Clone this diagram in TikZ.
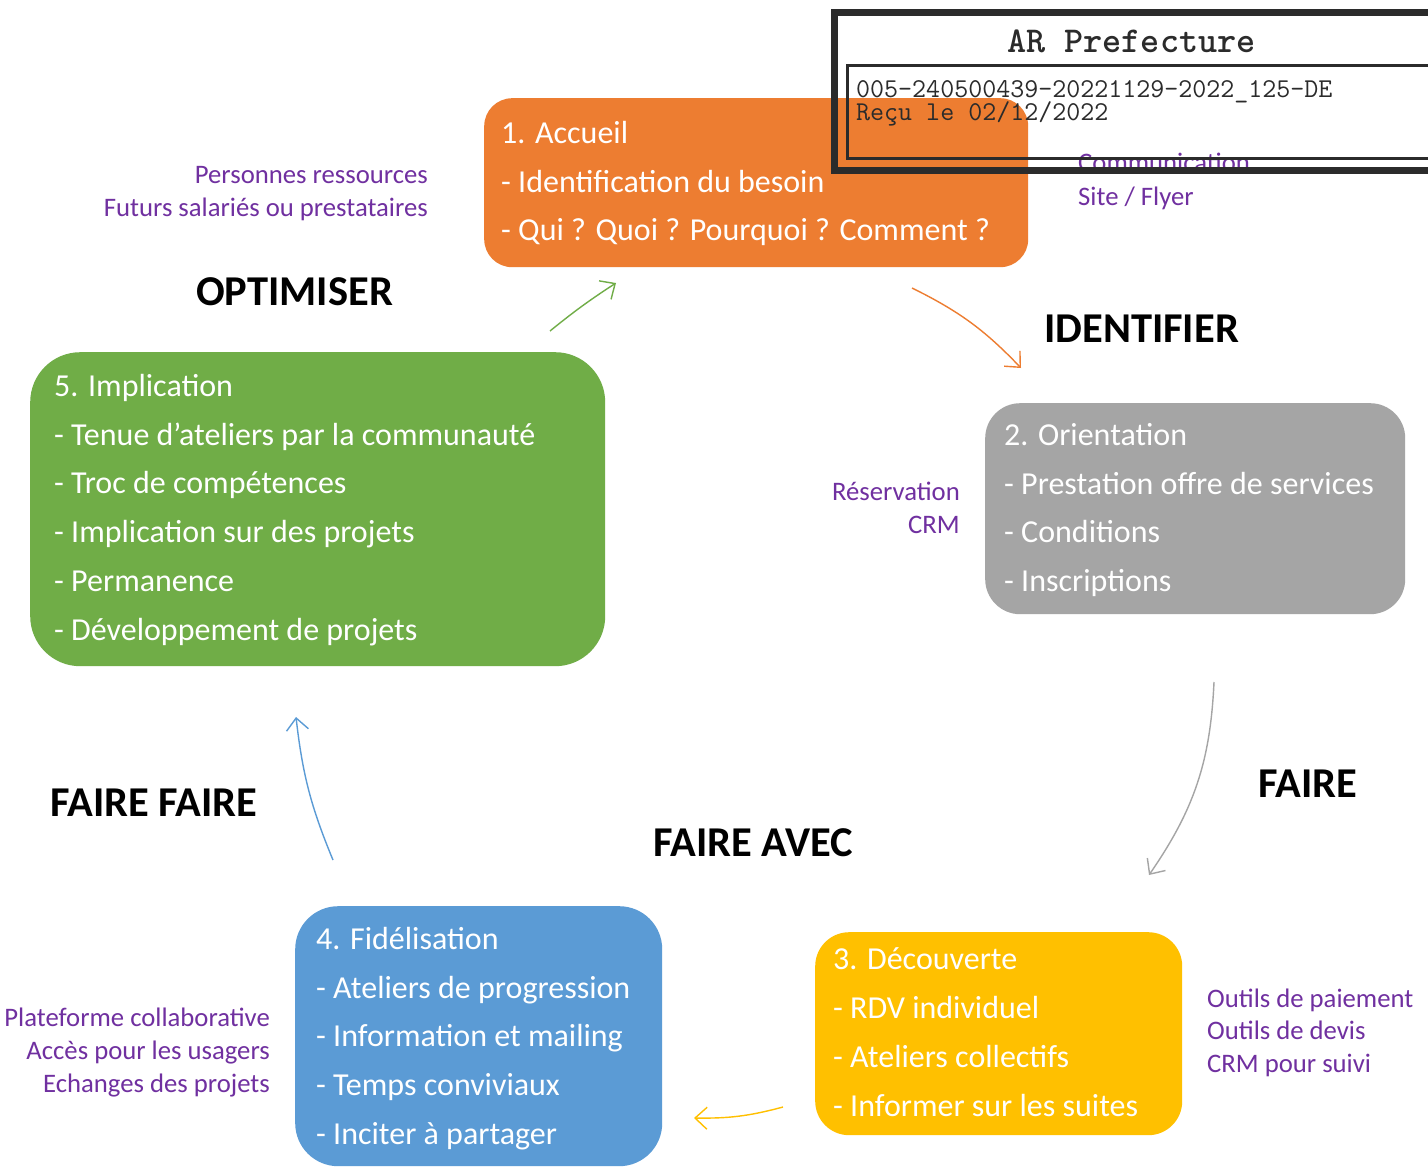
\documentclass[tikz,border=0pt]{standalone}
\usepackage{fontspec}
\setmainfont{Carlito}
\usetikzlibrary{arrows.meta}
\definecolor{cOrange}{HTML}{ED7D31}
\definecolor{cGreen}{HTML}{70AD47}
\definecolor{cGray}{HTML}{A5A5A5}
\definecolor{cYellow}{HTML}{FFC000}
\definecolor{cBlue}{HTML}{5B9BD5}
\definecolor{cPurple}{HTML}{7030A0}
\definecolor{cStamp}{HTML}{2B2B2B}
\tikzset{
  card/.style={draw=none, rounded corners=#1, anchor=north west, inner sep=0pt},
  line/.style={anchor=base west, inner sep=0pt, text=white, font=\fontsize{32}{38}\selectfont},
  phase/.style={anchor=base west, inner sep=0pt, font=\bfseries\fontsize{42.5}{48}\selectfont},
  tool/.style={inner sep=0pt, text=cPurple, font=\fontsize{26.7}{31}\selectfont},
  flow/.style={line width=1.4pt, -{Straight Barb[length=12pt,width=22pt,line width=1.4pt]}},
  stamptext/.style={anchor=base west, inner sep=0pt, text=cStamp}
}
\begin{document}
\begin{tikzpicture}[x=1pt,y=-1pt]
\useasboundingbox (0,0) rectangle (1428,1167);
\clip (0,0) rectangle (1428,1167);
\fill[white] (0,0) rectangle (1428,1167);

% boxes
\node[card=28pt, fill=cOrange, minimum width=544pt, minimum height=169pt] (accueil) at (484,98) {};
\node[card=50pt, fill=cGreen, minimum width=575pt, minimum height=314pt] (impl) at (30,352) {};
\node[card=35pt, fill=cGray, minimum width=420pt, minimum height=211pt] (orient) at (985,403) {};
\node[card=34pt, fill=cYellow, minimum width=367pt, minimum height=203pt] (decouv) at (815,932) {};
\node[card=43pt, fill=cBlue, minimum width=367pt, minimum height=260pt] (fidel) at (295,906) {};

% orange text
\node[line] (a1) at (501,143) {1. Accueil};
\node[line] (a2) at (501,192) {- Identification du besoin};
\node[line] (a3) at (501,240) {- Qui ? Quoi ? Pourquoi ? Comment ?};
% green text
\node[line] (g1) at (54,396) {5. Implication};
\node[line] (g2) at (54,445) {- Tenue d'ateliers par la communauté};
\node[line] (g3) at (54,493) {- Troc de compétences};
\node[line] (g4) at (54,542) {- Implication sur des projets};
\node[line] (g5) at (54,591) {- Permanence};
\node[line] (g6) at (54,640) {- Développement de projets};
% gray text
\node[line] (o1) at (1004,445) {2. Orientation};
\node[line] (o2) at (1004,494) {- Prestation offre de services};
\node[line] (o3) at (1004,542) {- Conditions};
\node[line] (o4) at (1004,591) {- Inscriptions};
% yellow text
\node[line] (d1) at (833,969) {3. Découverte};
\node[line] (d2) at (833,1018) {- RDV individuel};
\node[line] (d3) at (833,1067) {- Ateliers collectifs};
\node[line] (d4) at (833,1116) {- Informer sur les suites};
% blue text
\node[line] (f1) at (316,949) {4. Fidélisation};
\node[line] (f2) at (316,998) {- Ateliers de progression};
\node[line] (f3) at (316,1046) {- Information et mailing};
\node[line] (f4) at (316,1095) {- Temps conviviaux};
\node[line] (f5) at (316,1144) {- Inciter à partager};

% phases
\node[phase] (pOpt) at (196,305) {OPTIMISER};
\node[phase] (pIde) at (1044,342) {IDENTIFIER};
\node[phase] (pFai) at (1258,797) {FAIRE};
\node[phase] (pAve) at (653,856) {FAIRE AVEC};
\node[phase] (pFF) at (50,816) {FAIRE FAIRE};

% purple tools
\node[tool, anchor=base east] (t1) at (428,183) {Personnes ressources};
\node[tool, anchor=base east] (t2) at (428,216) {Futurs salariés ou prestataires};
\node[tool, anchor=base west] (t3) at (1078,171) {Communication};
\node[tool, anchor=base west] (t4) at (1078,205) {Site / Flyer};
\node[tool, anchor=base east] (t5) at (960,500) {Réservation};
\node[tool, anchor=base east] (t6) at (960,533) {CRM};
\node[tool, anchor=base west] (t7) at (1207,1007) {Outils de paiement};
\node[tool, anchor=base west] (t8) at (1207,1039) {Outils de devis};
\node[tool, anchor=base west] (t9) at (1207,1072) {CRM pour suivi};
\node[tool, anchor=base east] (t10) at (270,1026) {Plateforme collaborative};
\node[tool, anchor=base east] (t11) at (270,1059) {Accès pour les usagers};
\node[tool, anchor=base east] (t12) at (270,1092) {Echanges des projets};

% arrows
\coordinate (gS) at (550,331); \coordinate (gE) at (616,283);
\coordinate (oS) at (912,288); \coordinate (oE) at (1021,368);
\coordinate (rS) at (1214,682); \coordinate (rE) at (1149,875);
\coordinate (yS) at (783,1107); \coordinate (yE) at (694,1118);
\coordinate (bS) at (333,860); \coordinate (bE) at (296,717);
\draw[flow, cGreen] (gS) to[bend left=3] (gE);
\draw[flow, cOrange] (oS) to[bend left=10] (oE);
\draw[flow, cGray] (rS) to[bend left=16] (rE);
\draw[flow, cYellow] (yS) to[bend left=8] (yE);
\draw[flow, cBlue] (bS) to[bend left=8] (bE);

% stamp
\draw[cStamp, line width=7pt] (1440,12.5) -- (834.5,12.5) -- (834.5,170.5) -- (1440,170.5);
\draw[cStamp, line width=3pt] (1440,65.5) -- (847.5,65.5) -- (847.5,158) -- (1440,158);
\node[stamptext, font=\ttfamily\bfseries\fontsize{36.4}{40}\selectfont] (s1) at (1007,52) {AR Prefecture};
\node[stamptext, text depth=0pt, font=\ttfamily\fontsize{27.2}{28}\selectfont] (s2) at (856,97) {005-240500439-20221129-2022\_125-DE};
\node[stamptext, text height=14pt, font=\ttfamily\fontsize{27.2}{28}\selectfont] (s3) at (856,120) {Reçu le 02/12/2022};
\end{tikzpicture}
\end{document}
